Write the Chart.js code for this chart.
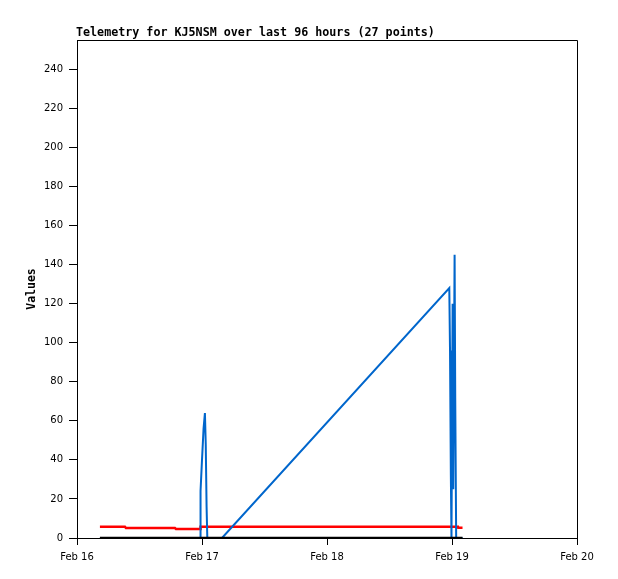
<!DOCTYPE html>
<html>
<head>
<meta charset="utf-8">
<script src="https://cdn.jsdelivr.net/npm/chart.js@4.4.1/dist/chart.umd.min.js"></script>
<style>
html,body{margin:0;padding:0;background:#fff;}
canvas{display:block;}
</style>
</head>
<body>
<canvas id="c" width="618" height="579"></canvas>
<script>
// Hours since Feb 16 00:00 for each of the 27 telemetry points
const hours = [4.4, 9.2, 9.4, 18.8, 19.0, 23.62, 23.72, 24.0, 24.3, 24.56, 24.72, 24.88, 25.02, 27.84,
  71.48, 71.62, 71.78, 71.9, 72.12, 72.24, 72.5, 72.62, 72.8, 73.15, 73.2, 73.6, 74.02];
const blueValues = [0, 0, 0, 0, 0, 0, 24, 40, 56, 64, 48, 16, 0, 0,
  128, 96, 32, 0, 120, 25, 145, 72, 0, 0, 0, 0, 0];
const redValues = [5.8, 5.8, 5.1, 5.1, 4.6, 4.6, 5.8, 5.8, 5.8, 5.8, 5.8, 5.8, 5.8, 5.8,
  5.8, 5.8, 5.8, 5.8, 5.8, 5.8, 5.8, 5.8, 5.8, 5.8, 5.3, 5.3, 5.3];
const blackValues = [0, 0, 0, 0, 0, 0, 0, 0, 0, 0, 0, 0, 0, 0,
  0, 0, 0, 0, 0, 0, 0, 0, 0, 0, 0, 0, 0];
const xTickLabels = ['Feb 16', 'Feb 17', 'Feb 18', 'Feb 19', 'Feb 20'];
const titleText = 'Telemetry for KJ5NSM over last 96 hours (27 points)';
const yTitle = 'Values';

function pts(vals) { return hours.map((h, i) => ({x: h, y: vals[i]})); }

const framePlugin = {
  id: 'frame',
  afterDraw(chart) {
    const {ctx, chartArea: a} = chart;
    ctx.save();
    ctx.strokeStyle = '#000';
    ctx.lineWidth = 1;
    ctx.beginPath();
    ctx.moveTo(a.left, a.top + 0.5);
    ctx.lineTo(a.right + 0.5, a.top + 0.5);
    ctx.lineTo(a.right + 0.5, a.bottom);
    ctx.stroke();
    ctx.fillStyle = '#000';
    ctx.font = 'bold 11.7px "DejaVu Sans Mono"';
    ctx.textBaseline = 'alphabetic';
    ctx.textAlign = 'left';
    ctx.fillText(titleText, 76, 36);
    ctx.restore();
  }
};

new Chart(document.getElementById('c'), {
  type: 'line',
  data: {
    datasets: [
      {data: pts(blackValues), borderColor: '#000000', borderWidth: 2.5, order: 1},
      {data: pts(blueValues), borderColor: '#0066cc', borderWidth: 2, order: 2},
      {data: pts(redValues), borderColor: '#ff0000', borderWidth: 2.5, order: 3}
    ]
  },
  options: {
    responsive: false,
    animation: false,
    devicePixelRatio: 1,
    layout: {padding: {left: 20, right: 41, top: 40, bottom: 0}},
    elements: {point: {radius: 0}, line: {tension: 0, fill: false}},
    plugins: {legend: {display: false}, tooltip: {enabled: false}, title: {display: false}},
    scales: {
      x: {
        type: 'linear', min: 0, max: 96,
        grid: {drawOnChartArea: false, tickLength: 7, color: '#000'},
        border: {color: '#000', width: 1},
        ticks: {stepSize: 24, color: '#000', padding: 6, maxRotation: 0,
          font: {family: '"DejaVu Sans"', size: 10},
          callback: v => xTickLabels[Math.round(v / 24)]},
        afterFit(s) { s.height = 41; }
      },
      y: {
        type: 'linear', min: 0, max: 255,
        grid: {drawOnChartArea: false, tickLength: 8, color: '#000'},
        border: {color: '#000', width: 1},
        ticks: {stepSize: 20, color: '#000', padding: 6,
          font: {family: '"DejaVu Sans"', size: 10}},
        afterBuildTicks(s) { s.ticks = s.ticks.filter(t => t.value % 20 === 0); },
        title: {display: true, text: yTitle, color: '#000', padding: {top: 5, bottom: 0},
          font: {family: '"DejaVu Sans Mono"', size: 11.5, weight: 'bold'}},
        afterFit(s) { s.width = 57; }
      }
    }
  },
  plugins: [framePlugin]
});
</script>
</body>
</html>
